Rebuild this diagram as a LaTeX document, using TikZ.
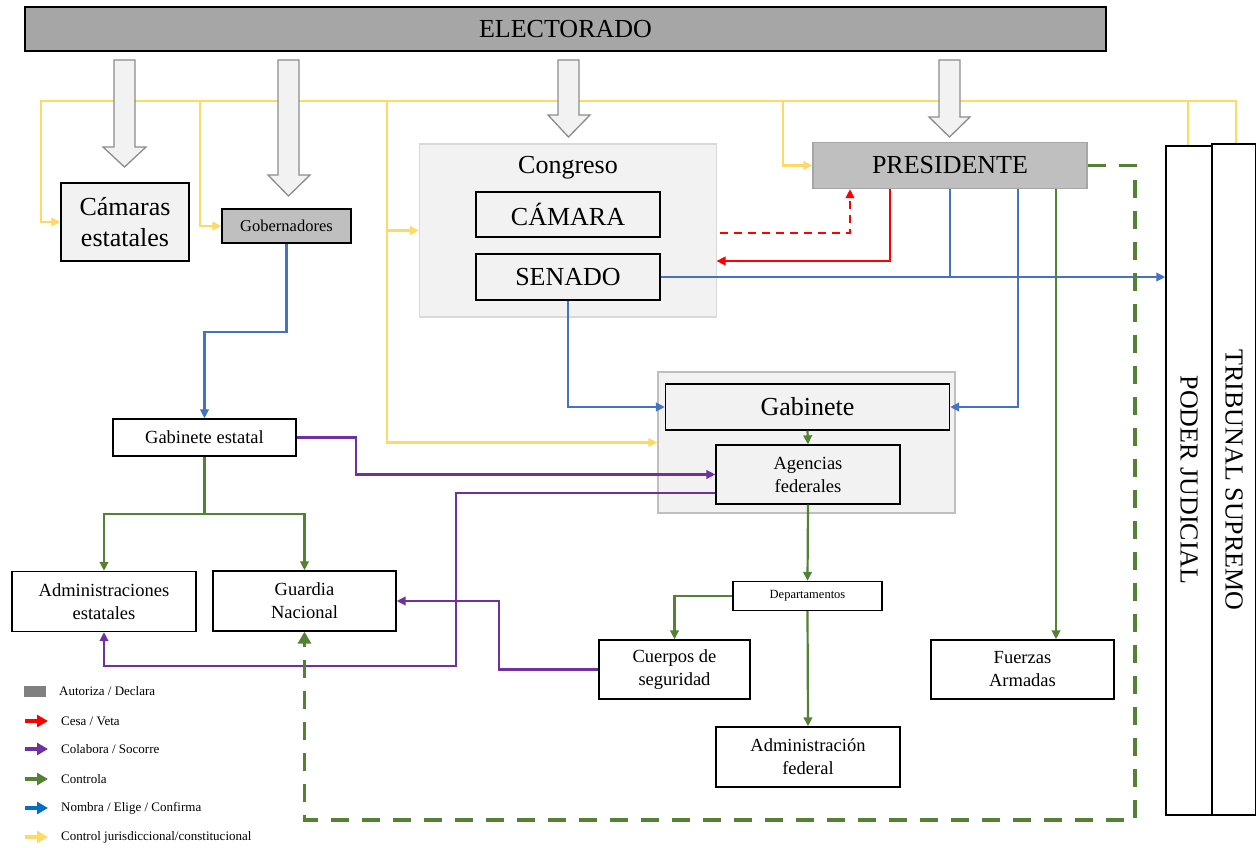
\documentclass[tikz,border=0pt]{standalone}
\usepackage{fontspec}
\setmainfont{Liberation Serif}
\usetikzlibrary{arrows.meta}
\definecolor{ylw}{HTML}{FFD966}
\definecolor{blu}{HTML}{4472C4}
\definecolor{lblu}{HTML}{0070C0}
\definecolor{grn}{HTML}{548235}
\definecolor{pur}{HTML}{7030A0}
\definecolor{redc}{HTML}{FF0000}
\definecolor{lgray}{HTML}{F2F2F2}
\definecolor{mgray}{HTML}{BFBFBF}
\definecolor{dgray}{HTML}{A6A6A6}
\definecolor{bord}{HTML}{D9D9D9}
\definecolor{arrb}{HTML}{8C8C8C}
\definecolor{leggray}{HTML}{808080}
\begin{document}
\begin{tikzpicture}[x=1pt,y=-1pt,
  box/.style={draw=black,line width=1.3pt,inner sep=0pt,align=center},
  fbig/.style={font=\fontsize{26}{31}\selectfont},
  fmid/.style={font=\fontsize{18.5}{23}\selectfont},
  arrowend/.style={-{Triangle[length=9pt,width=8.5pt]}},
  yline/.style={draw=ylw,line width=2.4pt},
  bline/.style={draw=blu,line width=2.2pt},
  rline/.style={draw=redc,line width=2.2pt},
  gline/.style={draw=grn,line width=2.2pt},
  pline/.style={draw=pur,line width=2.2pt},
  gdash/.style={draw=grn,line width=3.5pt,dash pattern=on 18pt off 13pt},
  blockarrow/.style={fill=lgray,draw=arrb,line width=1.3pt,line join=miter},
  legarrow/.style={line width=4pt,-{Triangle[length=11pt,width=12pt]}},
  legtext/.style={anchor=west,inner sep=0pt,font=\fontsize{13}{15}\selectfont}]
\useasboundingbox (0,0) rectangle (1256,848);
\fill[white] (0,0) rectangle (1256,848);

% containers
\node[draw=bord,fill=lgray,line width=1.3pt,minimum width=297pt,minimum height=173pt,inner sep=0pt] (congc) at (568,230.5) {};
\node[draw=mgray,fill=lgray,line width=1.3pt,minimum width=297pt,minimum height=141pt,inner sep=0pt] (gabc) at (806.5,442.5) {};

% boxes
\node[box,fill=dgray,fbig,minimum width=1081pt,minimum height=44pt] (elect) at (565.5,29) {ELECTORADO};
\node[box,fill=lgray,fbig,minimum width=128pt,minimum height=78pt] (camest) at (125,222) {Cámaras\\estatales};
\node[box,fill=mgray,font=\fontsize{16.5}{19}\selectfont,minimum width=129pt,minimum height=34pt] (gob) at (286.5,226) {Gobernadores};
\node[fbig,inner sep=0pt] (congt) at (568,168) {Congreso};
\node[box,fill=lgray,fbig,minimum width=184pt,minimum height=45pt] (camara) at (568,214.5) {CÁMARA};
\node[box,fill=lgray,fbig,minimum width=184pt,minimum height=46pt] (senado) at (568,277) {SENADO};
\node[box,draw=dgray,fill=mgray,fbig,minimum width=274pt,minimum height=46pt] (pres) at (950,165.5) {PRESIDENTE};
\node[box,fill=lgray,fbig,minimum width=284pt,minimum height=46pt] (gab) at (807.5,407) {Gabinete};
\node[box,fill=lgray,fmid,minimum width=184pt,minimum height=59pt] (agen) at (808,474.5) {Agencias\\federales};
\node[box,fill=white,fmid,minimum width=183pt,minimum height=37pt] (gabest) at (204.5,437.5) {Gabinete estatal};
\node[box,fill=white,fmid,minimum width=184pt,minimum height=60pt] (admest) at (104,601.5) {Administraciones\\estatales};
\node[box,fill=white,fmid,minimum width=183pt,minimum height=60pt] (guard) at (304.5,601) {Guardia\\Nacional};
\node[box,fill=white,font=\fontsize{12.5}{14}\selectfont,minimum width=149pt,minimum height=29pt] (dep) at (807.5,596) {Departamentos};
\node[box,fill=white,fmid,minimum width=151pt,minimum height=59pt] (cuer) at (674.5,669.5) {Cuerpos de\\seguridad};
\node[box,fill=white,fmid,minimum width=184pt,minimum height=60pt] (admfed) at (808,757) {Administración\\federal};
\node[box,fill=white,fmid,minimum width=183pt,minimum height=59pt] (fuer) at (1022.5,669.5) {Fuerzas\\Armadas};
\node[box,fill=white,minimum width=46pt,minimum height=669pt] (poder) at (1189,480.5) {};
\node[box,fill=white,minimum width=44pt,minimum height=671pt] (trib) at (1234,479.5) {};
\node[fbig,rotate=-90,inner sep=0pt] (podert) at (1189,480) {PODER JUDICIAL};
\node[fbig,rotate=-90,inner sep=0pt] (tribt) at (1234,480) {TRIBUNAL SUPREMO};

% yellow control lines
\coordinate (y0) at (41,101);
\coordinate (y1) at (200,101);
\coordinate (y2) at (387,101);
\coordinate (y3) at (783,101);
\coordinate (y4) at (1188,101);
\coordinate (y5) at (1236,101);
\draw[yline,line cap=rect] (y0) -- (y5);
\draw[yline] (y5) -- (y5 |- trib.north);
\draw[yline] (y4) -- (y4 |- poder.north);
\draw[yline,arrowend] (y0) |- (camest.west);
\draw[yline,arrowend] (y1) |- (gob.west);
\draw[yline,arrowend] (y2) |- (congc.west);
\draw[yline,arrowend] (congc.west -| y2) |- (gabc.west);
\draw[yline,arrowend] (y3) |- (pres.west);

% block arrows from ELECTORADO
\draw[blockarrow] (114,60) -- (135,60) -- (135,147) -- (146,147) -- (124.5,167) -- (103,147) -- (114,147) -- cycle;
\draw[blockarrow] (278,60) -- (299,60) -- (299,175) -- (310,175) -- (288.5,196) -- (268,175) -- (278,175) -- cycle;
\draw[blockarrow] (558,60) -- (579,60) -- (579,115) -- (590,115) -- (568.5,137) -- (548,115) -- (558,115) -- cycle;
\draw[blockarrow] (939,60) -- (960,60) -- (960,117) -- (970,117) -- (949.5,137) -- (929,117) -- (939,117) -- cycle;

% blue
\draw[bline,arrowend] (gob.south) -- ++(0,88) -| (gabest.north);
\draw[bline,arrowend] (senado.east) -- (poder.west |- senado.east);
\draw[bline] (pres.south) -- (pres.south |- senado.east);
\draw[bline,arrowend] (senado.south) |- (gab.west);
\draw[bline,arrowend] ([xshift=68pt]pres.south) |- (gab.east);

% red
\coordinate (r1) at (716.5,261);
\coordinate (r2) at (720,233);
\draw[rline,arrowend] ([xshift=-60pt]pres.south) |- (r1);
\draw[rline,dash pattern=on 8pt off 6pt,arrowend] (r2) -| ([xshift=-100pt]pres.south);

% green
\draw[gline,arrowend] ([xshift=106pt]pres.south) -- ([xshift=106pt]pres.south |- fuer.north);
\draw[gline,arrowend] (gab.south) -- (agen.north);
\draw[gline,arrowend] (agen.south) -- (dep.north);
\draw[gline,arrowend] (dep.west) -| (cuer.north);
\draw[gline,arrowend] (dep.south) -- (admfed.north);
\coordinate (g1) at (204.5,514);
\draw[gline] (gabest.south) -- (g1);
\draw[gline,arrowend] (g1) -| (admest.north);
\draw[gline,arrowend] (g1) -| (guard.north);

% purple
\coordinate (p1) at (356,437.5);
\draw[pline,arrowend] (gabest.east) -- (p1) |- (agen.west);
\coordinate (p2) at (456,493);
\coordinate (p3) at (456,666);
\draw[pline,arrowend] (p2 -| agen.west) -- (p2) -- (p3) -| (admest.south);
\coordinate (p4) at (499,669.5);
\draw[pline,arrowend] (cuer.west) -- (p4) |- (guard.east);

% green dashed
\coordinate (gd1) at (1135,165.5);
\coordinate (gd2) at (1135,820);
\draw[gdash,-{Triangle[length=12pt,width=13pt]}] (pres.east) -- (gd1) -- (gd2) -| (guard.south);

% legend
\fill[leggray] (24,686) rectangle (46,697);
\node[legtext] (l1) at (59,691) {Autoriza / Declara};
\draw[legarrow,draw=redc,fill=redc] (25,721) -- (48,721);
\node[legtext] (l2) at (61,721) {Cesa / Veta};
\draw[legarrow,draw=pur,fill=pur] (25,749) -- (48,749);
\node[legtext] (l3) at (61,749) {Colabora / Socorre};
\draw[legarrow,draw=grn,fill=grn] (25,779) -- (48,779);
\node[legtext] (l4) at (61,779) {Controla};
\draw[legarrow,draw=lblu,fill=lblu] (25,808) -- (48,808);
\node[legtext] (l5) at (61,808) {Nombra / Elige / Confirma};
\draw[legarrow,draw=ylw,fill=ylw] (25,837) -- (48,837);
\node[legtext] (l6) at (61,837) {Control jurisdiccional/constitucional};
\end{tikzpicture}
\end{document}
